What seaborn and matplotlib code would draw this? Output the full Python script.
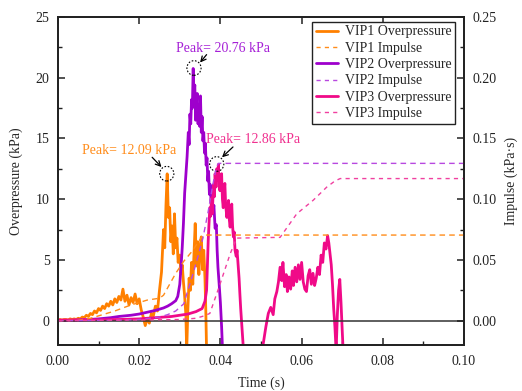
import numpy as np
import pandas as pd
import seaborn as sns
import matplotlib
matplotlib.use("Agg")
import matplotlib.pyplot as plt
from matplotlib.patches import Ellipse
from matplotlib.lines import Line2D

# ---------------- data ----------------
vip1_t = [0.0000, 0.0005, 0.0010, 0.0015, 0.0020, 0.0025, 0.0030, 0.0035, 0.0040, 0.0045,
          0.0050, 0.0055, 0.0060, 0.0065, 0.0070, 0.0075, 0.0080, 0.0085, 0.0090, 0.0095,
          0.0100, 0.0105, 0.0110, 0.0115, 0.0120, 0.0125, 0.0130, 0.0135, 0.0140, 0.0145,
          0.0150, 0.0155, 0.0160, 0.0165, 0.0170, 0.0175, 0.0180, 0.0185, 0.0190, 0.0195,
          0.0200, 0.0205, 0.0210, 0.0215, 0.0220, 0.0225, 0.0230, 0.0235, 0.0240, 0.0245,
          0.0250, 0.0255, 0.0260, 0.0263, 0.0266, 0.0269, 0.0272, 0.0275, 0.0278, 0.0281,
          0.0284, 0.0287, 0.0290, 0.0293, 0.0296, 0.0300, 0.0303, 0.0306, 0.0309, 0.0312,
          0.0315, 0.0317, 0.0320, 0.0323, 0.0326, 0.0329, 0.0332, 0.0335, 0.0338, 0.0341,
          0.0344, 0.0347, 0.0350, 0.0353, 0.0356, 0.0359, 0.0362, 0.0364, 0.0366, 0.0370]
vip1_p = [0.05, 0.10, 0.05, 0.10, 0.10, 0.05, 0.15, 0.10, 0.15, 0.10,
          0.20, 0.15, 0.30, 0.25, 0.45, 0.35, 0.60, 0.50, 0.80, 0.65,
          1.00, 0.85, 1.20, 1.00, 1.40, 1.20, 1.60, 1.30, 1.80, 1.50,
          2.00, 1.70, 2.60, 1.60, 2.10, 1.30, 1.90, 1.50, 2.20, 1.40,
          1.80, 0.90, 0.30, -0.40, 0.20, -0.20, 0.60, 0.40, 1.20, 0.80,
          2.50, 4.00, 7.50, 6.00, 9.50, 12.09, 8.50, 9.30, 6.50, 7.80,
          5.50, 8.80, 6.00, 6.80, 4.80, 5.40, 3.90, 4.60, 3.20, 2.00,
          0.50, -2.50, 1.00, 3.50, 2.50, 4.80, 3.00, 5.50, 8.00, 4.50,
          6.50, 3.80, 6.00, 6.90, 4.20, 5.80, 3.50, 1.00, -2.50, -5.00]

vip2_t = [0.0000, 0.0050, 0.0100, 0.0130, 0.0150, 0.0180, 0.0200, 0.0220, 0.0240, 0.0260,
          0.0270, 0.0280, 0.0290, 0.0295, 0.0300, 0.0303, 0.0306, 0.0309, 0.0312, 0.0315,
          0.0318, 0.0321, 0.0323, 0.0325, 0.0327, 0.0329, 0.0331, 0.0333, 0.0335, 0.0337,
          0.0339, 0.0341, 0.0343, 0.0345, 0.0347, 0.0349, 0.0351, 0.0353, 0.0355, 0.0357,
          0.0359, 0.0361, 0.0363, 0.0365, 0.0367, 0.0369, 0.0371, 0.0373, 0.0375, 0.0377,
          0.0379, 0.0381, 0.0384, 0.0387, 0.0390, 0.0392, 0.0394, 0.0397, 0.0400, 0.0403,
          0.0406, 0.0410]
vip2_p = [0.00, 0.05, 0.15, 0.25, 0.35, 0.45, 0.55, 0.70, 0.85, 1.05,
          1.20, 1.40, 1.65, 2.00, 3.00, 4.40, 6.00, 8.00, 10.5, 12.0,
          13.5, 15.5, 14.5, 17.0, 16.2, 18.2, 17.5, 20.76, 18.5, 19.4,
          16.5, 17.8, 18.7, 16.2, 17.3, 16.0, 18.5, 15.5, 16.8, 14.8,
          15.5, 13.8, 14.6, 12.8, 13.4, 11.5, 12.3, 10.4, 11.2, 9.8,
          10.5, 8.8, 9.5, 7.6, 7.9, 5.8, 4.4, 3.0, 1.5, -0.5,
          -3.0, -6.0]

vip3_t = [0.0000, 0.0100, 0.0150, 0.0200, 0.0240, 0.0280, 0.0300, 0.0320, 0.0340, 0.0355,
          0.0362, 0.0366, 0.0368, 0.0370, 0.0372, 0.0374, 0.0376, 0.0378, 0.0380, 0.0383,
          0.0385, 0.0387, 0.0389, 0.0391, 0.0393, 0.0395, 0.0397, 0.0399, 0.0401, 0.0403,
          0.0405, 0.0407, 0.0409, 0.0411, 0.0413, 0.0416, 0.0418, 0.0420, 0.0422, 0.0424,
          0.0426, 0.0428, 0.0430, 0.0432, 0.0434, 0.0436, 0.0439, 0.0441, 0.0443, 0.0446,
          0.0448, 0.0450, 0.0453, 0.0457, 0.0461, 0.0500, 0.0505, 0.0512, 0.0518, 0.0524,
          0.0530, 0.0534, 0.0539, 0.0543, 0.0547, 0.0551, 0.0554, 0.0558, 0.0562, 0.0565,
          0.0569, 0.0573, 0.0577, 0.0580, 0.0584, 0.0588, 0.0592, 0.0596, 0.0600, 0.0604,
          0.0608, 0.0612, 0.0616, 0.0620, 0.0624, 0.0628, 0.0632, 0.0636, 0.0640, 0.0644,
          0.0648, 0.0652, 0.0656, 0.0660, 0.0664, 0.0667, 0.0670, 0.0673, 0.0676, 0.0679,
          0.0682, 0.0685, 0.0688, 0.0691, 0.0694, 0.0697, 0.0700, 0.0703, 0.0710]
vip3_p = [0.05, 0.08, 0.10, 0.15, 0.25, 0.35, 0.45, 0.55, 0.75, 1.00,
          1.60, 2.50, 4.50, 6.60, 8.00, 9.30, 8.60, 10.1, 8.80, 11.2,
          10.2, 12.1, 11.0, 12.5, 11.6, 12.86, 11.0, 10.7, 11.8, 12.1,
          10.0, 9.30, 10.6, 11.3, 9.50, 8.50, 9.30, 9.90, 8.30, 7.70,
          8.80, 9.60, 7.80, 6.90, 7.30, 5.80, 5.30, 5.80, 4.90, 3.50,
          2.20, 1.00, -0.50, -2.50, -4.00, -4.00, -2.00, -0.50, 0.60, 1.10,
          0.50, 1.80, 2.40, 3.20, 4.40, 3.30, 4.80, 2.80, 3.80, 2.40,
          3.60, 2.60, 4.10, 2.90, 4.40, 3.20, 4.60, 3.40, 4.80, 3.20,
          2.60, 2.40, 3.70, 4.20, 3.00, 3.90, 2.90, 3.50, 4.40, 3.80,
          5.40, 4.80, 6.40, 5.90, 7.00, 6.40, 5.50, 4.60, 3.00, 1.00,
          -0.50, -2.50, 0.50, 2.50, 3.40, 1.50, -0.80, -3.00, -5.00]

imp1_t = [0.000, 0.005, 0.008, 0.010, 0.012, 0.014, 0.016, 0.018, 0.020, 0.022,
          0.024, 0.025, 0.026, 0.027, 0.028, 0.029, 0.030, 0.031, 0.032, 0.033,
          0.034, 0.035, 0.0357, 0.036, 0.100]
imp1_v = [0.0, 0.0003, 0.002, 0.004, 0.006, 0.008, 0.0105, 0.013, 0.015, 0.017,
          0.018, 0.0185, 0.021, 0.027, 0.033, 0.039, 0.044, 0.049, 0.053, 0.057,
          0.062, 0.067, 0.070, 0.0705, 0.0705]

imp2_t = [0.000, 0.015, 0.020, 0.025, 0.027, 0.029, 0.030, 0.031, 0.032, 0.0333,
          0.0345, 0.0357, 0.037, 0.0382, 0.039, 0.0395, 0.100]
imp2_v = [0.0, 0.0005, 0.001, 0.003, 0.005, 0.008, 0.011, 0.014, 0.025, 0.039,
          0.053, 0.068, 0.090, 0.113, 0.126, 0.1295, 0.1295]

imp3_t = [0.000, 0.030, 0.034, 0.036, 0.0374, 0.0399, 0.0424, 0.044, 0.0547, 0.0588,
          0.0628, 0.0662, 0.0682, 0.0695, 0.100]
imp3_v = [0.0, 0.001, 0.002, 0.004, 0.006, 0.030, 0.055, 0.068, 0.0686, 0.088,
          0.099, 0.110, 0.115, 0.117, 0.117]

labels = ["VIP1 Overpressure", "VIP1 Impulse", "VIP2 Overpressure",
          "VIP2 Impulse", "VIP3 Overpressure", "VIP3 Impulse"]
peak_texts = ["Peak= 12.09 kPa", "Peak= 20.76 kPa", "Peak= 12.86 kPa"]

# ---------------- style ----------------
sns.set_style("ticks")
plt.rcParams["font.family"] = ["Liberation Serif", "DejaVu Serif"]
plt.rcParams["font.size"] = 10

c1, c2, c3 = "#FF8000", "#9E00CC", "#F00A88"
c1d, c2d, c3d = "#FF8C1A", "#B848E0", "#F040A0"

fig = plt.figure(figsize=(5.22, 3.91), dpi=100)
ax = fig.add_axes([0.111, 0.1176, 0.778, 0.839])
ax2 = ax.twinx()

sns.lineplot(x=vip1_t, y=vip1_p, ax=ax, color=c1, lw=2.0, estimator=None, sort=False)
sns.lineplot(x=vip2_t, y=vip2_p, ax=ax, color=c2, lw=2.0, estimator=None, sort=False)
sns.lineplot(x=vip3_t, y=vip3_p, ax=ax, color=c3, lw=2.0, estimator=None, sort=False)
ax.axhline(0, color="#333333", lw=1.1, zorder=6)

sns.lineplot(x=imp1_t, y=imp1_v, ax=ax2, color=c1d, lw=1.0, ls=(0, (4, 3)), estimator=None, sort=False)
sns.lineplot(x=imp2_t, y=imp2_v, ax=ax2, color=c2d, lw=1.0, ls=(0, (4, 3)), estimator=None, sort=False)
sns.lineplot(x=imp3_t, y=imp3_v, ax=ax2, color=c3d, lw=1.0, ls=(0, (3, 3)), estimator=None, sort=False)

ax.set_xlim(0, 0.10)
ax.set_ylim(-2, 25)
ax2.set_ylim(-0.02, 0.25)
ax.set_xticks(np.arange(0, 0.101, 0.02))
ax.set_xticks(np.arange(0.01, 0.1, 0.02), minor=True)
ax.set_yticks([0, 5, 10, 15, 20, 25])
ax.set_yticks([2.5, 7.5, 12.5, 17.5, 22.5], minor=True)
ax2.set_yticks([0, 0.05, 0.10, 0.15, 0.20, 0.25])
ax2.set_yticks([0.025, 0.075, 0.125, 0.175, 0.225], minor=True)
ax.set_xticklabels([f"{v:.2f}" for v in np.arange(0, 0.101, 0.02)])
ax2.set_yticklabels([f"{v:.2f}" for v in [0, 0.05, 0.10, 0.15, 0.20, 0.25]])

for a in (ax, ax2):
    for s in a.spines.values():
        s.set_linewidth(1.3)
        s.set_color("#222222")
    a.spines["top"].set_visible(True)
    a.spines["right"].set_visible(True)
ax.tick_params(which="major", direction="in", length=5, width=1.1, colors="#222222",
               labelsize=10, top=True, labelcolor="#222222")
ax.tick_params(axis="x", which="major", pad=7)
ax.tick_params(axis="y", which="major", pad=6)
ax.tick_params(which="minor", direction="in", length=3, width=1.0, colors="#222222", top=False)
ax2.tick_params(which="major", direction="in", length=5, width=1.1, colors="#222222",
                labelsize=10, pad=6)
ax2.tick_params(which="minor", direction="in", length=3, width=1.0, colors="#222222")

ax.set_xlabel("Time (s)", fontsize=10, labelpad=6)
ax.set_ylabel("Overpressure (kPa)", fontsize=10, labelpad=9)
ax2.set_ylabel("Impulse (kPa·s)", fontsize=10, labelpad=6)

# annotations
ann = [
    (peak_texts[0], c1d, (0.0175, 14.0), (0.0255, 12.65), (0.0268, 12.1), (0.0232, 13.45)),
    (peak_texts[1], "#A51FD6", (0.0406, 22.4), (0.0350, 21.25), (0.0335, 20.8), (0.0366, 21.9)),
    (peak_texts[2], "#F0308F", (0.0480, 14.9), (0.0404, 13.45), (0.0391, 12.9), (0.0431, 14.3)),
]
for txt, col, tpos, apos, cpos, spos in ann:
    ax.text(tpos[0], tpos[1], txt, color=col, fontsize=10, ha="center", va="center")
    ax.annotate("", xy=apos, xytext=spos,
                arrowprops=dict(arrowstyle="->", color="black", lw=0.9, shrinkA=0, shrinkB=0,
                                mutation_scale=9))
    ax.add_patch(Ellipse(cpos, width=0.0035, height=1.2, fill=False, ec="black",
                         lw=0.8, ls=(0, (1.5, 1.5)), zorder=7))

for a in (ax, ax2):
    if a.get_legend() is not None:
        a.get_legend().remove()

handles = [
    Line2D([], [], color=c1, lw=2.0),
    Line2D([], [], color=c1d, lw=1.0, ls=(0, (3, 3))),
    Line2D([], [], color=c2, lw=2.0),
    Line2D([], [], color=c2d, lw=1.0, ls=(0, (3, 3))),
    Line2D([], [], color=c3, lw=2.0),
    Line2D([], [], color=c3d, lw=1.0, ls=(0, (3, 3))),
]
leg = ax2.legend(handles, labels, loc="upper right", bbox_to_anchor=(0.978, 0.985),
                 fontsize=10, frameon=True, fancybox=False, framealpha=1,
                 edgecolor="#222222", borderpad=0.25, labelspacing=0.24,
                 handlelength=1.6, handletextpad=0.5, borderaxespad=0.0)
leg.get_frame().set_linewidth(1.0)

fig.savefig("out.png", dpi=100)
